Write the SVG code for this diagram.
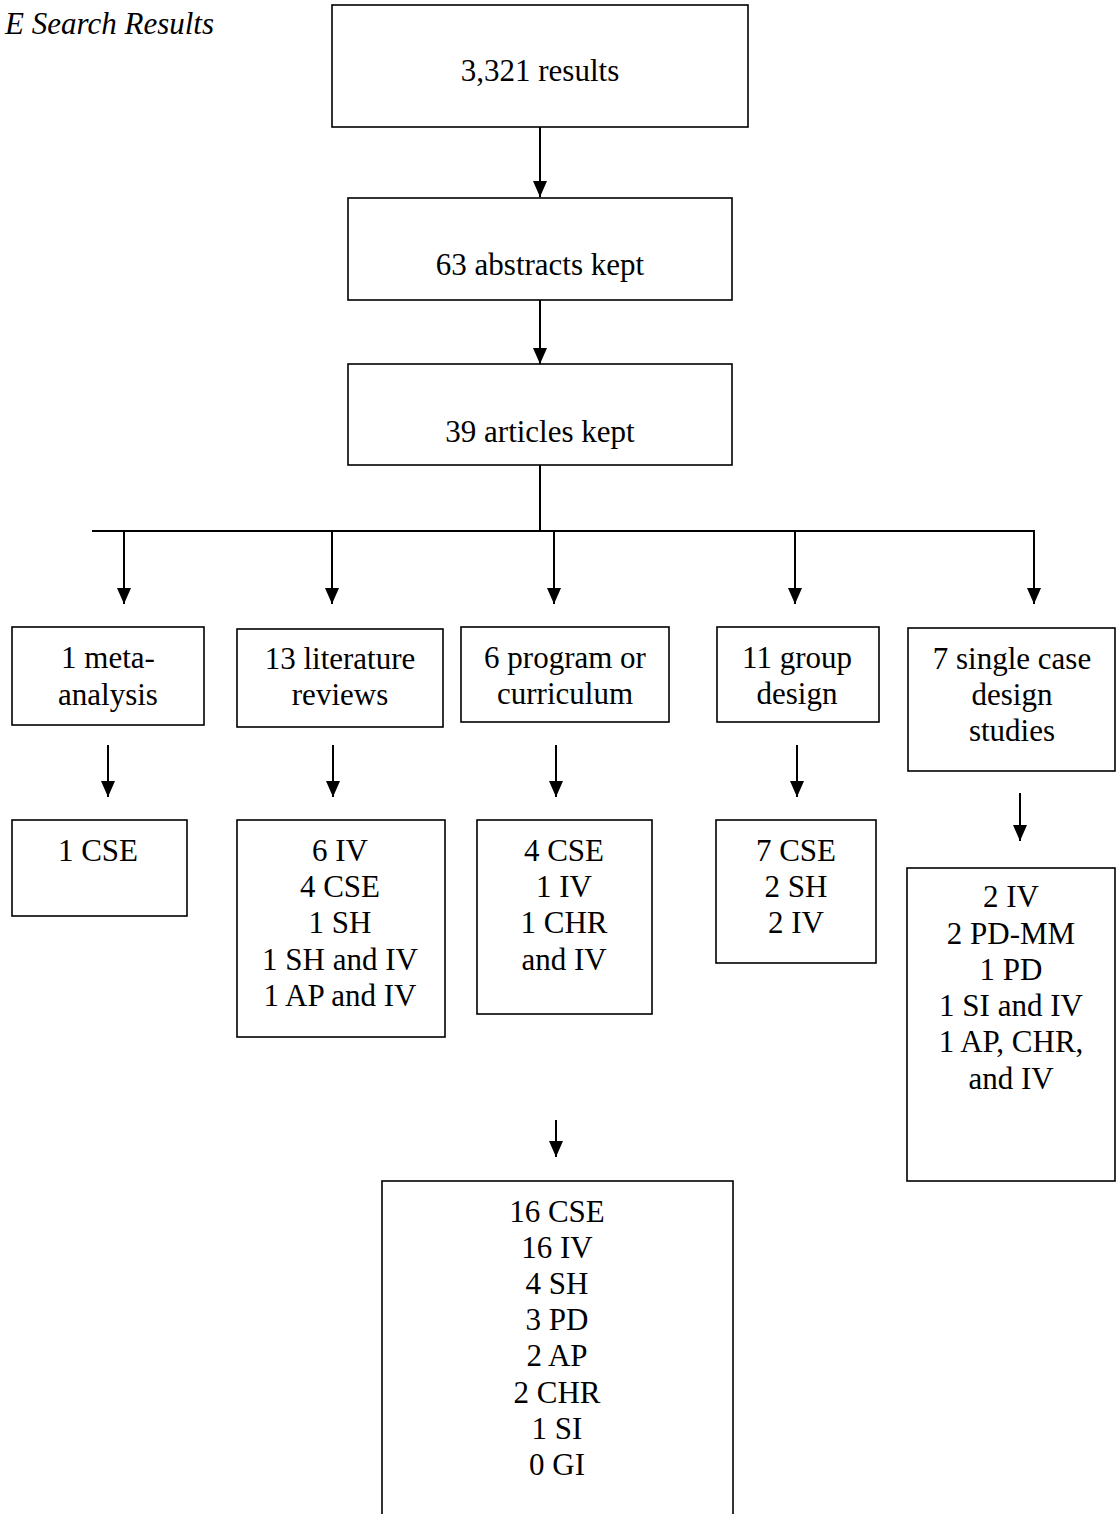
<svg xmlns="http://www.w3.org/2000/svg" width="1116" height="1514" viewBox="0 0 1116 1514">
<style>
.box{fill:#fff;stroke:#000;stroke-width:1.6}
.t{font-family:"Liberation Serif","Times New Roman",serif;font-size:31px;fill:#000;text-anchor:middle}
.title{font-family:"Liberation Serif","Times New Roman",serif;font-size:31px;font-style:italic;fill:#000;text-anchor:end}
.c{stroke:#000;stroke-width:2;fill:none}
.a{marker-end:url(#ah)}
</style>
<defs>
<marker id="ah" markerUnits="userSpaceOnUse" markerWidth="16" markerHeight="14" refX="16" refY="7" orient="auto">
<path d="M0,0 L16,7 L0,14 Z" fill="#000"/>
</marker>
</defs>
<rect width="1116" height="1514" fill="#fff"/>
<text class="title" x="214" y="34">E Search Results</text>

<g id="connectors">
<line class="c a" x1="540" y1="127" x2="540" y2="197"/>
<line class="c a" x1="540" y1="300" x2="540" y2="364"/>
<line class="c" x1="540" y1="465" x2="540" y2="531"/>
<line class="c" x1="92" y1="531" x2="1035" y2="531" stroke-width="2.6"/>
<line class="c a" x1="124" y1="531" x2="124" y2="604"/>
<line class="c a" x1="332" y1="531" x2="332" y2="604"/>
<line class="c a" x1="554" y1="531" x2="554" y2="604"/>
<line class="c a" x1="795" y1="531" x2="795" y2="604"/>
<line class="c a" x1="1034" y1="531" x2="1034" y2="604"/>
<line class="c a" x1="108" y1="745" x2="108" y2="797"/>
<line class="c a" x1="333" y1="745" x2="333" y2="797"/>
<line class="c a" x1="556" y1="745" x2="556" y2="797"/>
<line class="c a" x1="797" y1="745" x2="797" y2="797"/>
<line class="c a" x1="1020" y1="793" x2="1020" y2="841"/>
<line class="c a" x1="556" y1="1120" x2="556" y2="1157"/>
</g>

<g id="n-results">
<rect class="box" x="332" y="5" width="416" height="122"/>
<text class="t" x="540" y="81">3,321 results</text>
</g>
<g id="n-abstracts">
<rect class="box" x="348" y="198" width="384" height="102"/>
<text class="t" x="540" y="275">63 abstracts kept</text>
</g>
<g id="n-articles">
<rect class="box" x="348" y="364" width="384" height="101"/>
<text class="t" x="540" y="442">39 articles kept</text>
</g>

<g id="n-meta">
<rect class="box" x="12" y="627" width="192" height="98"/>
<text class="t" x="108" y="668">1 meta-</text>
<text class="t" x="108" y="705">analysis</text>
</g>
<g id="n-lit">
<rect class="box" x="237" y="629" width="206" height="98"/>
<text class="t" x="340" y="669">13 literature</text>
<text class="t" x="340" y="705">reviews</text>
</g>
<g id="n-prog">
<rect class="box" x="461" y="627" width="208" height="95"/>
<text class="t" x="565" y="668">6 program or</text>
<text class="t" x="565" y="704">curriculum</text>
</g>
<g id="n-group">
<rect class="box" x="717" y="627" width="162" height="95"/>
<text class="t" x="797" y="668">11 group</text>
<text class="t" x="797" y="704">design</text>
</g>
<g id="n-single">
<rect class="box" x="908" y="628" width="207" height="143"/>
<text class="t" x="1012" y="669">7 single case</text>
<text class="t" x="1012" y="705">design</text>
<text class="t" x="1012" y="741">studies</text>
</g>

<g id="n-meta-res">
<rect class="box" x="12" y="820" width="175" height="96"/>
<text class="t" x="98" y="861">1 CSE</text>
</g>
<g id="n-lit-res">
<rect class="box" x="237" y="820" width="208" height="217"/>
<text class="t" x="340" y="861">6 IV</text>
<text class="t" x="340" y="897">4 CSE</text>
<text class="t" x="340" y="933">1 SH</text>
<text class="t" x="340" y="970">1 SH and IV</text>
<text class="t" x="340" y="1006">1 AP and IV</text>
</g>
<g id="n-prog-res">
<rect class="box" x="477" y="820" width="175" height="194"/>
<text class="t" x="564" y="861">4 CSE</text>
<text class="t" x="564" y="897">1 IV</text>
<text class="t" x="564" y="933">1 CHR</text>
<text class="t" x="564" y="970">and IV</text>
</g>
<g id="n-group-res">
<rect class="box" x="716" y="820" width="160" height="143"/>
<text class="t" x="796" y="861">7 CSE</text>
<text class="t" x="796" y="897">2 SH</text>
<text class="t" x="796" y="933">2 IV</text>
</g>
<g id="n-single-res">
<rect class="box" x="907" y="868" width="208" height="313"/>
<text class="t" x="1011" y="907">2 IV</text>
<text class="t" x="1011" y="944">2 PD-MM</text>
<text class="t" x="1011" y="980">1 PD</text>
<text class="t" x="1011" y="1016">1 SI and IV</text>
<text class="t" x="1011" y="1052">1 AP, CHR,</text>
<text class="t" x="1011" y="1089">and IV</text>
</g>

<g id="n-total">
<rect class="box" x="382" y="1181" width="351" height="360"/>
<text class="t" x="557" y="1222">16 CSE</text>
<text class="t" x="557" y="1258">16 IV</text>
<text class="t" x="557" y="1294">4 SH</text>
<text class="t" x="557" y="1330">3 PD</text>
<text class="t" x="557" y="1366">2 AP</text>
<text class="t" x="557" y="1403">2 CHR</text>
<text class="t" x="557" y="1439">1 SI</text>
<text class="t" x="557" y="1475">0 GI</text>
</g>
</svg>
